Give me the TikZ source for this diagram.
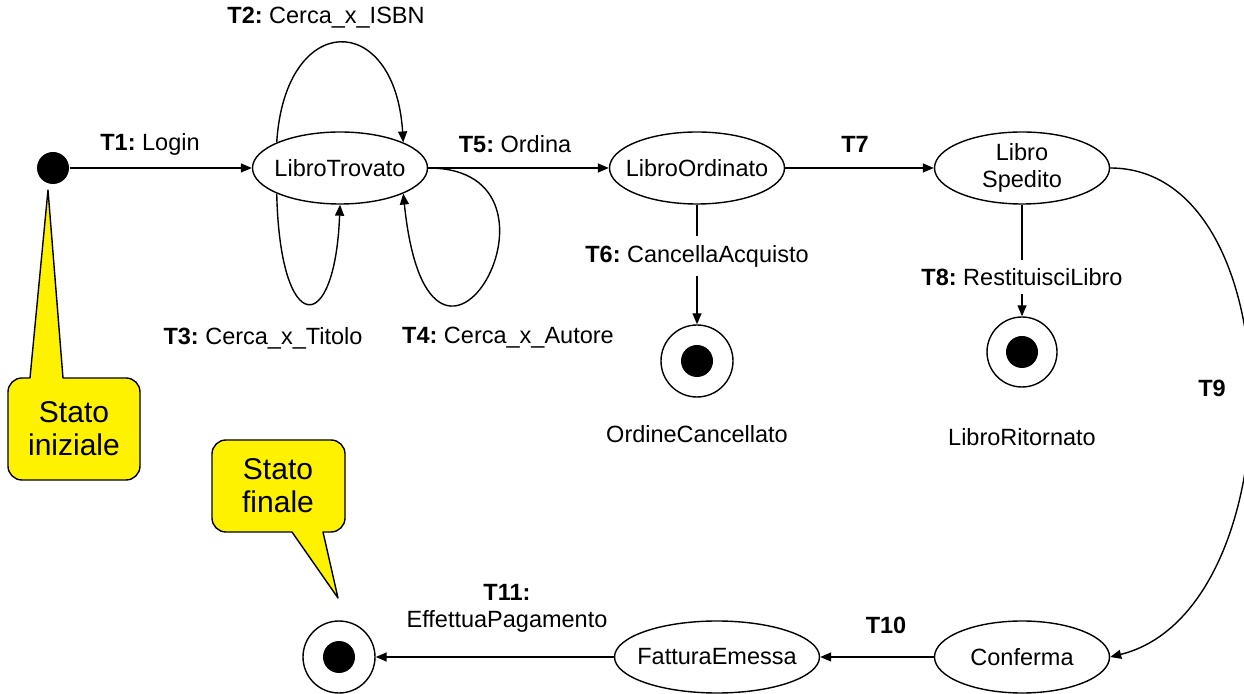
\documentclass[tikz,border=0pt]{standalone}
\usepackage{fontspec}
\setmainfont{Liberation Sans}
\usetikzlibrary{arrows.meta,shapes.geometric,positioning}
\frenchspacing

\begin{document}
\begin{tikzpicture}[x=1pt,y=1pt,line width=1.4pt,
		font=\fontsize{23.5}{27}\selectfont,
		state/.style={ellipse,draw,inner xsep=-10pt,inner ysep=0pt,minimum width=175pt,minimum height=72pt,align=center},
		endstate/.style={circle,draw,minimum size=72pt,path picture={\fill[black] (path picture bounding box.center) circle (16pt);}},
		startdot/.style={circle,fill=black,minimum size=32pt,inner sep=0pt},
		lbl/.style={inner sep=8pt,align=center},
		arr/.style={-{Triangle[length=11pt,width=9pt]}},
		note/.style={fill=yellow,draw,line join=round},
		notetext/.style={font=\fontsize{30}{33}\selectfont,align=center}]
		\useasboundingbox (0,0) rectangle (1244,693);

		\node[startdot] (init) at (53,525) {};
		\node[state] (lt) at (340,525) {LibroTrovato};
		\node[state] (lo) at (697,525) {LibroOrdinato};
		\node[state] (ls) at (1022,525) {Libro\\Spedito};
		\node[state] (cf) at (1022,36) {Conferma};
		\node[state,minimum width=205pt] (fe) at (717,36) {FatturaEmessa};
		\node[endstate] (oc) at (697,332) {};
		\node[endstate,minimum size=70pt] (lr) at (1022,341) {};
		\node[endstate] (fin) at (339,36) {};
		\node[below=24pt of oc] (ocname) {OrdineCancellato};
		\node[below=37pt of lr] (lrname) {LibroRitornato};

		\node[lbl] (t1) at (150,549) {\textbf{T1:} Login};
		\node[lbl] (t2) at (326,675) {\textbf{T2:} Cerca\_x\_ISBN};
		\node[lbl] (t3) at (263,355) {\textbf{T3:} Cerca\_x\_Titolo};
		\node[lbl] (t4) at (508,355) {\textbf{T4:} Cerca\_x\_Autore};
		\node[lbl] (t5) at (515,549) {\textbf{T5:} Ordina};
		\node[lbl] (t6) at (697,437) {\textbf{T6:} CancellaAcquisto};
		\node[lbl] (t7) at (855,549) {\textbf{T7}};
		\node[lbl] (t8) at (1022,416) {\textbf{T8:} RestituisciLibro};
		\node[lbl] (t9) at (1212,305) {\textbf{T9}};
		\node[lbl] (t10) at (886,68) {\textbf{T10}};
		\node[lbl] (t11) at (507,85) {\textbf{T11:}\\EffettuaPagamento};

		\draw[arr] (init) -- (lt);
		\draw[arr] (lt.158) .. controls (285,683) and (395,683) .. (lt.22);
		\draw[arr] (lt.202) .. controls (280,355) and (335,355) .. (lt.south);
		\draw[arr] (lt.east) .. controls (590,525) and (430,240) .. (lt.-22);
		\draw[arr] (lt) -- (lo);
		\draw (lo) -- (t6);
		\draw[arr] (t6) -- (oc);
		\draw[arr] (lo) -- (ls);
		\draw (ls) -- (t8);
		\draw[arr] (t8) -- (lr);
		\draw[arr] (ls.east) .. controls (1296,525) and (1296,82) .. (cf.east);
		\draw[arr] (cf) -- (fe);
		\draw[arr] (fe) -- (fin);

		% callouts
		\draw[note] (48,503) -- (63,315) [rounded corners=14pt] -- (140,315) -- (140,213) -- (8,213) -- (8,315) [sharp corners] -- (30,315) -- cycle;
		\node[notetext] (ini) at (74,264) {Stato\\iniziale};
		\draw[note] (338,95) -- (323,161) [rounded corners=14pt] -- (345,161) -- (345,253) -- (212,253) -- (212,161) [sharp corners] -- (292,161) -- cycle;
		\node[notetext] (fnl) at (278,207) {Stato\\finale};
\end{tikzpicture}
\end{document}
